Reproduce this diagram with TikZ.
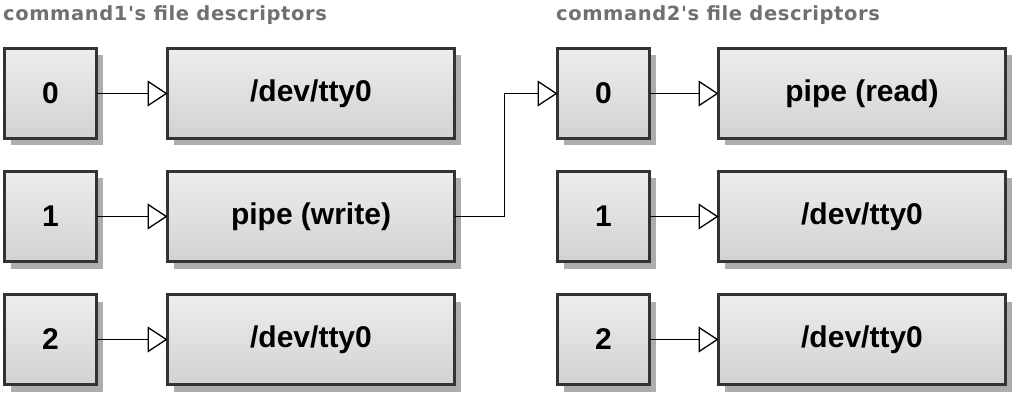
\documentclass[tikz,border=0pt]{standalone}
\usepackage{fontspec}
\setmainfont{Liberation Sans}
\newfontfamily\titlefont[LetterSpace=3]{DejaVu Sans}
\usepackage{xcolor}
\usepackage{tikz}
\usetikzlibrary{arrows.meta,positioning,shadows}
\definecolor{boxline}{HTML}{333333}
\definecolor{boxtop}{HTML}{EDEDED}
\definecolor{boxbottom}{HTML}{D2D2D2}
\definecolor{shadowgray}{HTML}{ADADAD}
\definecolor{titlegray}{HTML}{707070}

\begin{document}
\begin{tikzpicture}[
        x=1pt, y=-1pt,
        node distance=33pt and 71pt,
        basebox/.style={draw=boxline, rectangle, line width=3pt, outer sep=0pt, inner sep=0pt, top color=boxtop, bottom color=boxbottom, minimum height=90pt, font=\fontsize{30}{36}\selectfont\bfseries, drop shadow={shadow xshift=6pt, shadow yshift=-7pt, fill=shadowgray, opacity=1}},
        fdbox/.style={basebox, minimum width=92pt},
        filebox/.style={basebox, minimum width=287pt},
        heading/.style={anchor=base west, inner sep=0pt, text=titlegray, font=\titlefont\fontsize{19.5}{24}\selectfont\bfseries},
        conn/.style={line width=1.6pt, -{Triangle[open, length=20pt, width=26pt, line width=1.3pt]}}
    ]
        \useasboundingbox (0,0) rectangle (1024,403);
        \node[heading] (title1) at (3,21) {command1's file descriptors};
        \node[heading] (title2) at (556,21) {command2's file descriptors};

        \node[fdbox] (fda0) at (50.5,93.5) {0};
        \node[fdbox, below=of fda0] (fda1) {1};
        \node[fdbox, below=of fda1] (fda2) {2};
        \node[filebox, right=of fda0] (filea0) {/dev/tty0};
        \node[filebox, right=of fda1] (filea1) {pipe (write)};
        \node[filebox, right=of fda2] (filea2) {/dev/tty0};

        \node[fdbox, right=103pt of filea0] (fdb0) {0};
        \node[fdbox, below=of fdb0] (fdb1) {1};
        \node[fdbox, below=of fdb1] (fdb2) {2};
        \node[filebox, right=69pt of fdb0] (fileb0) {pipe (read)};
        \node[filebox, right=69pt of fdb1] (fileb1) {/dev/tty0};
        \node[filebox, right=69pt of fdb2] (fileb2) {/dev/tty0};

        \draw[conn] (fda0) -- (filea0);
        \draw[conn] (fda1) -- (filea1);
        \draw[conn] (fda2) -- (filea2);
        \draw[conn] (fdb0) -- (fileb0);
        \draw[conn] (fdb1) -- (fileb1);
        \draw[conn] (fdb2) -- (fileb2);
        \draw[conn] (filea1.east) -- ++(50,0) |- (fdb0.west);
    \end{tikzpicture}
\end{document}
